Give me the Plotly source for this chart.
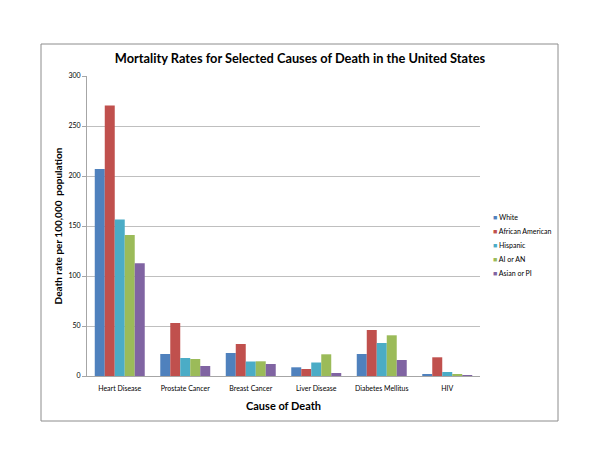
import plotly.graph_objects as go

categories = ["Heart Disease", "Prostate Cancer", "Breast Cancer", "Liver Disease", "Diabetes Mellitus", "HIV"]
series_names = ["White", "African American", "Hispanic", "AI or AN", "Asian or PI"]
white = [207, 22, 23, 8.7, 22, 2]
african_american = [270.5, 53, 32, 7, 46, 18.7]
hispanic = [156.5, 18, 14.5, 13.5, 33, 4]
ai_or_an = [141, 17, 14.7, 21.7, 40.7, 2]
asian_or_pi = [112.7, 10, 12, 3, 16, 0.4]
values = [white, african_american, hispanic, ai_or_an, asian_or_pi]
colors = ["#4F81BD", "#C0504D", "#4BACC6", "#9BBB59", "#8064A2"]
y_ticks = [0, 50, 100, 150, 200, 250, 300]

FONT = "Lato, 'Open Sans', sans-serif"

# page body has an 8px offset; figure sized to fit window
W, H = 592, 456
L, T = 79, 68
PW, PH = 393, 300

fig = go.Figure()
for name, vals, col in zip(series_names, values, colors):
    fig.add_trace(go.Bar(name=name, x=categories, y=vals, showlegend=False,
                         marker=dict(color=col, line=dict(width=0))))

# legend as text annotations (compact Excel-style legend)
for i, (name, col) in enumerate(zip(series_names, colors)):
    y_screen = 217 + i * 13.9
    fig.add_annotation(
        xref="paper", yref="paper",
        x=(491 - 87) / PW, y=(376 - y_screen) / PH,
        xanchor="left", yanchor="middle", showarrow=False,
        text=f"<span style='color:{col};font-size:7px'>■</span> {name}",
        font=dict(family=FONT, size=7, color="#000000"),
    )

fig.update_layout(
    width=W, height=H,
    margin=dict(l=L, r=W - L - PW, t=T, b=H - T - PH),
    paper_bgcolor="white", plot_bgcolor="white",
    barmode="group", bargap=0.237, bargroupgap=0,
    font=dict(family=FONT, color="#404040", size=8),
    title=dict(text="<b>Mortality Rates for Selected Causes of Death in the United States</b>",
               x=(300 - 8) / W, xanchor="center", y=1 - 51 / H, yanchor="middle",
               font=dict(family=FONT, size=12.8, color="#000000")),
    showlegend=False,
)
fig.update_xaxes(
    showline=True, linecolor="#A6A6A6", linewidth=1, ticks="", showgrid=False,
    tickfont=dict(family=FONT, size=7, color="#000000"), ticklabelstandoff=6,
    title=dict(text="<b>Cause of Death</b>", font=dict(family=FONT, size=11, color="#000000"), standoff=10),
)
fig.update_yaxes(
    range=[0, 300], tickvals=y_ticks, showline=True, linecolor="#A6A6A6", linewidth=1,
    ticks="outside", ticklen=4, tickcolor="#A6A6A6",
    showgrid=True, gridcolor="#BFBFBF", gridwidth=1, zeroline=False,
    tickfont=dict(family=FONT, size=7, color="#000000"),
    title=dict(text="<b>Death rate per 100,000  population</b>", font=dict(family=FONT, size=10, color="#000000"), standoff=3),
)
fig.add_shape(type="rect", xref="paper", yref="paper",
              x0=(41 - 87) / PW, x1=(558 - 87) / PW, y0=(376 - 421) / PH, y1=(376 - 44) / PH,
              line=dict(color="#8C8C8C", width=1), fillcolor="rgba(0,0,0,0)", layer="below")
fig.write_html("out.html")
